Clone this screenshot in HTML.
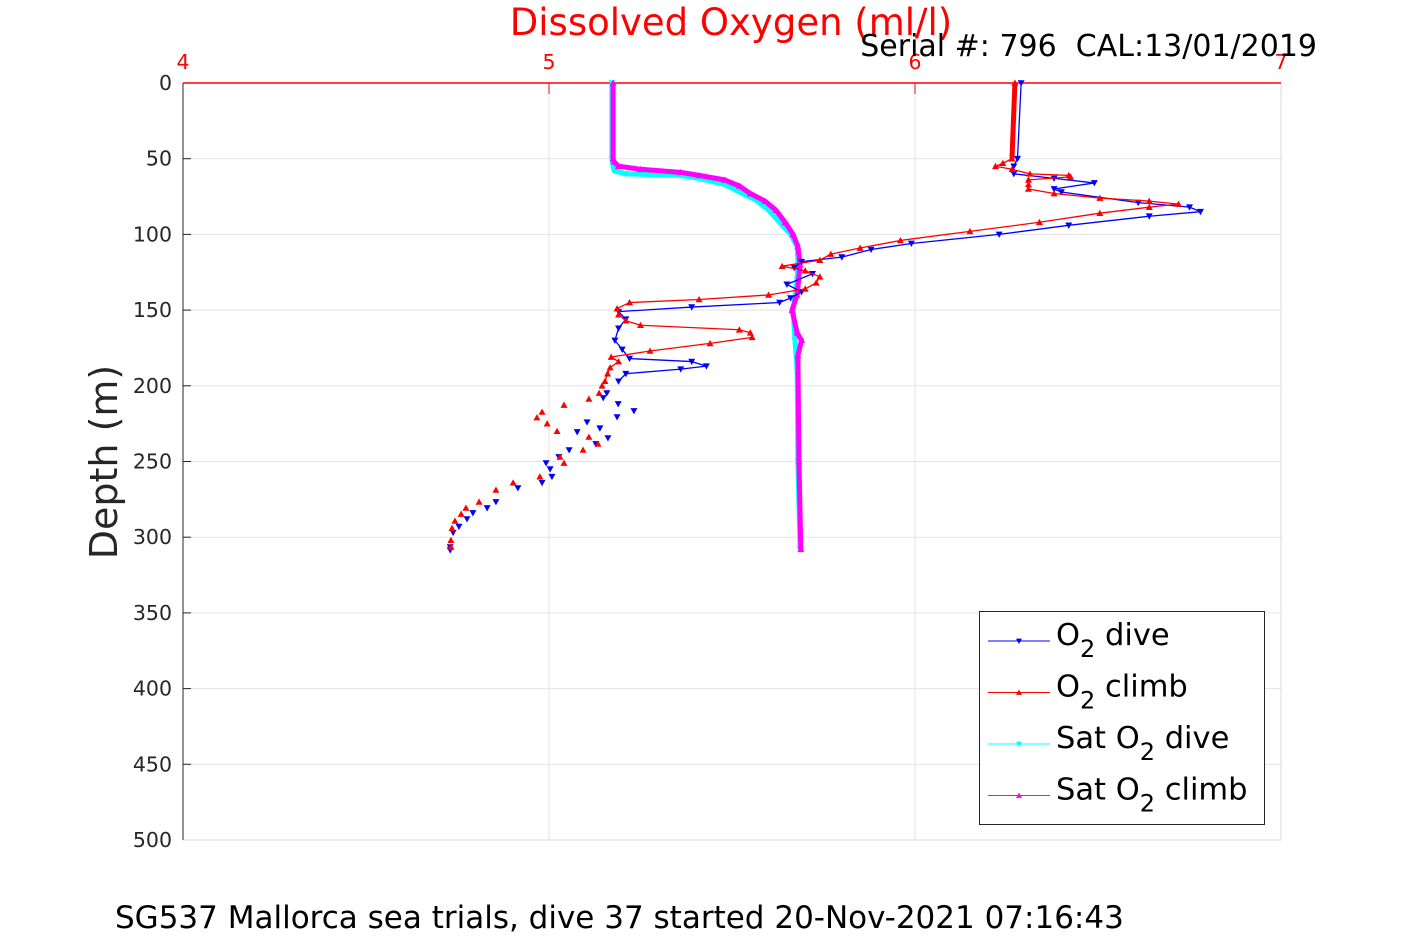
<!DOCTYPE html>
<html><head><meta charset="utf-8"><style>
body{margin:0;background:#fff;font-family:"Liberation Sans","DejaVu Sans",sans-serif}
svg text{font-family:"DejaVu Sans","Liberation Sans",sans-serif}
</style></head><body>
<svg id="chart" width="1417" height="945" xmlns="http://www.w3.org/2000/svg">
<rect width="1417" height="945" fill="#fff"/>
<g id="grid"></g>
<g id="axes"></g>
<g id="series"></g>
<text x="731" y="35" font-size="37" fill="#ff0000" text-anchor="middle">Dissolved Oxygen (ml/l)</text>
<text x="1317" y="56" font-size="30" fill="#000" text-anchor="end">Serial #: 796&#160; CAL:13/01/2019</text>
<text transform="translate(117,462) rotate(-90)" font-size="38" fill="#262626" text-anchor="middle">Depth (m)</text>
<text x="115" y="928" font-size="31" fill="#000">SG537 Mallorca sea trials, dive 37 started 20-Nov-2021 07:16:43</text>
<g>
<rect x="979.5" y="611.5" width="285" height="213" fill="#fff" stroke="#262626" stroke-width="1"/>
<g id="legend-items"></g>
</g>
</svg>
<script>
const xTicks=[4,5,6,7];
const yTicks=[0,50,100,150,200,250,300,350,400,450,500];
const diveO2=[6.29,6.28,6.27,6.27,6.38,6.49,6.38,6.40,6.61,6.75,6.78,6.64,6.42,6.23,5.99,5.88,5.80,5.69,5.67,5.72,5.65,5.69,5.66,5.63,5.39,5.19,5.21,5.19,5.18,5.20,5.22,5.39,5.43,5.36,5.21,5.19];
const diveDepth=[0,50,55,60,63,66,70,72,79,82,85,88,94,100,106,110,115,118,122,126,133,138,142,145,148,151,156,162,170,176,182,184,187,189,192,197];
const diveScatterO2=[5.158,5.148,5.189,5.232,5.186,5.104,5.139,5.077,5.161,5.128,5.055,5.027,4.992,5.003,5.008,4.981,4.915,4.855,4.831,4.792,4.776,4.754,4.738,4.730,4.730];
const diveScatterDepth=[204.8,208,212,216.6,220.6,224,228,230.5,234.5,238.4,242.4,247,251,255,260,264,267.5,276.7,280.7,284,288,293,297,306.5,308.5];
const climbO2=[6.273,6.265,6.24,6.22,6.265,6.314,6.42,6.425,6.31,6.31,6.31,6.38,6.505,6.64,6.72,6.64,6.505,6.34,6.15,5.96,5.85,5.77,5.74,5.637,5.70,5.74,5.73,5.70,5.60,5.41,5.22,5.186,5.19,5.21,5.25,5.52,5.55,5.555,5.44,5.276,5.17,5.19,5.167,5.16,5.153];
const climbDepth=[0,50,53,55,57,60,61,62,64,67,70,73,76,78,80,82,86,92,98,104,109,113,117,121,124,128,132,136,140,143,145,149,153,157,160,163,165,168,172,177,181,184,188,192,197];
const climbScatterO2=[5.145,5.137,5.109,5.041,4.981,4.967,4.995,5.022,5.109,5.134,5.093,5.030,5.041,4.975,4.902,4.855,4.809,4.773,4.760,4.743,4.735,4.732,4.732];
const climbScatterDepth=[200,204.8,208.7,212.7,217.3,221,225,230,233.8,238.4,242.4,247,251,260,264,268.8,276.7,280.7,284.7,289.3,294,302,306.5];
const satDiveO2=[5.172,5.172,5.175,5.178,5.21,5.36,5.41,5.48,5.52,5.563,5.60,5.63,5.66,5.678,5.68,5.678,5.667,5.672,5.678,5.68,5.686];
const satDiveDepth=[0,50,55,58,60,61,63,67,72,77,84,92,100,108,115,130,150,170,190,250,308];
const satClimbO2=[5.175,5.175,5.178,5.19,5.25,5.36,5.41,5.48,5.52,5.55,5.59,5.62,5.645,5.667,5.68,5.686,5.678,5.664,5.678,5.69,5.68,5.683,5.688];
const satClimbDepth=[0,50,52,55,57,59,61,64,68,73,78,84,92,100,108,120,140,150,165,170,180,250,308];

const NS='http://www.w3.org/2000/svg';
const L=183,R=1281,T=83,B=840;
const xs=v=>L+(v-4)/3*(R-L);
const ys=d=>T+d/500*(B-T);
function mk(tag,attrs,parent){const e=document.createElementNS(NS,tag);for(const k in attrs)e.setAttribute(k,attrs[k]);parent.appendChild(e);return e;}
const grid=document.getElementById('grid'),axes=document.getElementById('axes'),ser=document.getElementById('series');
yTicks.forEach(t=>{
 const g=mk('line',{x1:L,x2:R,y1:ys(t),y2:ys(t),stroke:'#e3e3e3','stroke-width':1},grid);
 
 
 const tk=mk('line',{x1:L,x2:L+8,y1:ys(t),y2:ys(t),stroke:'#262626'},axes);
 
 
 const tx=mk('text',{x:172,y:ys(t)+7,'font-size':20.5,fill:'#262626','text-anchor':'end'},axes);
 tx.textContent=t;
 
 
});
xTicks.forEach(t=>{
 const g=mk('line',{x1:xs(t),x2:xs(t),y1:T,y2:B,stroke:'#f2dede','stroke-width':1},grid);
 
 
 const tk=mk('line',{x1:xs(t),x2:xs(t),y1:T,y2:T+11,stroke:'#ff0000'},axes);
 
 
 const tx=mk('text',{x:xs(t),y:69,'font-size':20.5,fill:'#ff0000','text-anchor':'middle'},axes);
 tx.textContent=t;
 
 
});
const bl=mk('line',{x1:L,x2:R,y1:B,y2:B,stroke:'#d8d8d8'},axes);


const rl=mk('line',{x1:R,x2:R,y1:T,y2:B,stroke:'#d8d8d8'},axes);


const ll=mk('line',{x1:L,x2:L,y1:T,y2:B,stroke:'#262626'},axes);


const tl=mk('line',{x1:L,x2:R,y1:T,y2:T,stroke:'#ff0000','stroke-width':1.5},axes);



function tri(x,y,up,color,parent,s){
 s=s||3.5;
 const p=up?`${x},${y-s} ${x-s},${y+s*0.8} ${x+s},${y+s*0.8}`:`${x},${y+s} ${x-s},${y-s*0.8} ${x+s},${y-s*0.8}`;
 const e=mk('polygon',{points:p,fill:color},parent);
 
 
}
function series(name,ox,dp,color,up,w,line){
 const g=mk('g',{},ser);
 
 
 if(line){
  const pl=mk('polyline',{points:ox.map((v,i)=>xs(v)+','+ys(dp[i])).join(' '),fill:'none',stroke:color,'stroke-width':w,'stroke-linejoin':'round'},g);
  
  
 }
 ox.forEach((v,i)=>tri(xs(v),ys(dp[i]),up,color,g));
}
series('sat-o2-dive',satDiveO2,satDiveDepth,'#00ffff',false,5,true);
series('sat-o2-climb',satClimbO2,satClimbDepth,'#ff00ff',true,5,true);
series('o2-dive',diveO2,diveDepth,'#0000ff',false,1.3,true);
series('o2-dive-scatter',diveScatterO2,diveScatterDepth,'#0000ff',false,1,false);
series('o2-climb',climbO2,climbDepth,'#ff0000',true,1.3,true);
series('o2-climb-scatter',climbScatterO2,climbScatterDepth,'#ff0000',true,1,false);
// thicken near-surface dense sections
const thick=mk('polyline',{points:[0,1].map(i=>xs(climbO2[i])+','+ys(climbDepth[i])).join(' '),fill:'none',stroke:'#ff0000','stroke-width':5},ser);



const legItems=[['O','2',' dive','#0000ff',false],['O','2',' climb','#ff0000',true],['Sat O','2',' dive','#00ffff',false],['Sat O','2',' climb','#ff00ff',true]];
const lg=document.getElementById('legend-items');
legItems.forEach((it,i)=>{
 const y=641+i*51.5;
 const g=mk('g',{},lg);
 
 
 mk('line',{x1:988,x2:1050,y1:y,y2:y,stroke:it[3],'stroke-width':1},g);
 tri(1019,y,it[4],it[3],g,3);
 const t=mk('text',{x:1056,y:y+4,'font-size':30.5,fill:'#000'},g);
 t.innerHTML=it[0]+'<tspan dy="12" font-size="24">'+it[1]+'</tspan><tspan dy="-12">'+it[2]+'</tspan>';
 
 
});
</script>
</body></html>
